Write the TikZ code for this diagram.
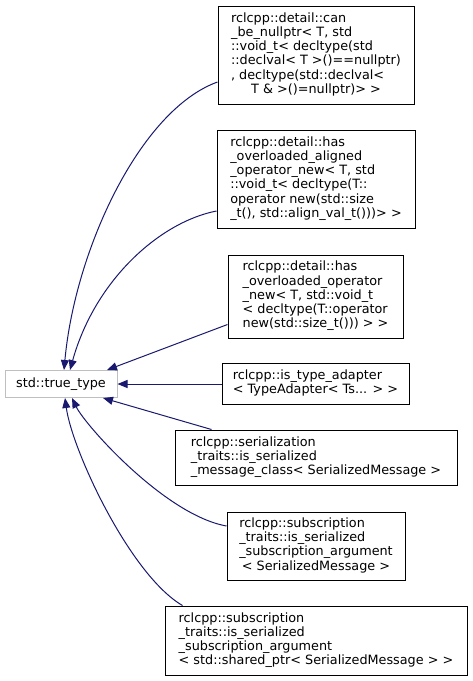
\documentclass[tikz,border=0pt]{standalone}
\usepackage{fontspec}
\setmainfont{DejaVu Sans}
\usetikzlibrary{arrows.meta}
\definecolor{edgeblue}{HTML}{191970}
\definecolor{rootgray}{HTML}{BFBFBF}
\newcommand\boxlbl[2]{\begin{tabular}{@{}l@{}}#1\\\multicolumn{1}{@{}c@{}}{#2}\end{tabular}}
\tikzset{
  cls/.style={draw=black, line width=1pt, fill=white, inner sep=0pt,
    font=\fontsize{12.8}{14.2}\selectfont},
  rootcls/.style={cls, draw=rootgray},
  edge/.style={draw=edgeblue, line width=1pt, -{Triangle[length=10pt,width=8pt]}}
}
\begin{document}
\begin{tikzpicture}[x=1pt,y=-1pt]
\useasboundingbox[fill=white] (0,0) rectangle (472,681);

\node[rootcls, minimum width=112, minimum height=27] (tt) at (61,384) {std::true\_type};

\node[cls, minimum width=196, minimum height=98] (b1) at (316,55)
  {\boxlbl{rclcpp::detail::can\\\_be\_nullptr< T, std\\::void\_t< decltype(std\\::declval< T >()==nullptr)\\, decltype(std::declval<}{T \& >()=nullptr)> >}};

\node[cls, minimum width=198, minimum height=98] (b2) at (316,179)
  {\boxlbl{rclcpp::detail::has\\\_overloaded\_aligned\\\_operator\_new< T, std\\::void\_t< decltype(T::\\operator new(std::size}{\_t(), std::align\_val\_t()))> >}};

\node[cls, minimum width=175, minimum height=83] (b3) at (315.5,296.5)
  {\boxlbl{rclcpp::detail::has\\\_overloaded\_operator\\\_new< T, std::void\_t\\< decltype(T::operator}{new(std::size\_t())) > >}};

\node[cls, minimum width=187, minimum height=41] (b4) at (315.5,384)
  {\boxlbl{rclcpp::is\_type\_adapter}{< TypeAdapter< Ts... > >}};

\node[cls, minimum width=282, minimum height=55] (b5) at (316,457.5)
  {\boxlbl{rclcpp::serialization\\\_traits::is\_serialized}{\_message\_class< SerializedMessage >}};

\node[cls, minimum width=178, minimum height=68] (b6) at (316,546)
  {\boxlbl{rclcpp::subscription\\\_traits::is\_serialized\\\_subscription\_argument}{< SerializedMessage >}};

\node[cls, minimum width=302, minimum height=69] (b7) at (316,640.5)
  {\boxlbl{rclcpp::subscription\\\_traits::is\_serialized\\\_subscription\_argument}{< std::shared\_ptr< SerializedMessage > >}};

\draw[edge] ([yshift=-27pt]b1.west) .. controls (140,110) and (75,250) .. ([xshift=3pt]tt.north);
\draw[edge] ([yshift=-32pt]b2.west) .. controls (160,222) and (95,280) .. ([xshift=9pt]tt.north);
\draw[edge] ([yshift=-28pt]b3.west) -- ([xshift=46pt]tt.north);
\draw[edge] (b4.west) -- (tt.east);
\draw[edge] ([xshift=37pt]b5.north west) -- ([xshift=42pt]tt.south);
\draw[edge] ([yshift=20pt]b6.west) .. controls (165,515) and (85,425) .. ([xshift=11pt]tt.south);
\draw[edge] ([xshift=18pt]b7.north west) .. controls (130,575) and (72,450) .. ([xshift=4pt]tt.south);
\end{tikzpicture}
\end{document}
